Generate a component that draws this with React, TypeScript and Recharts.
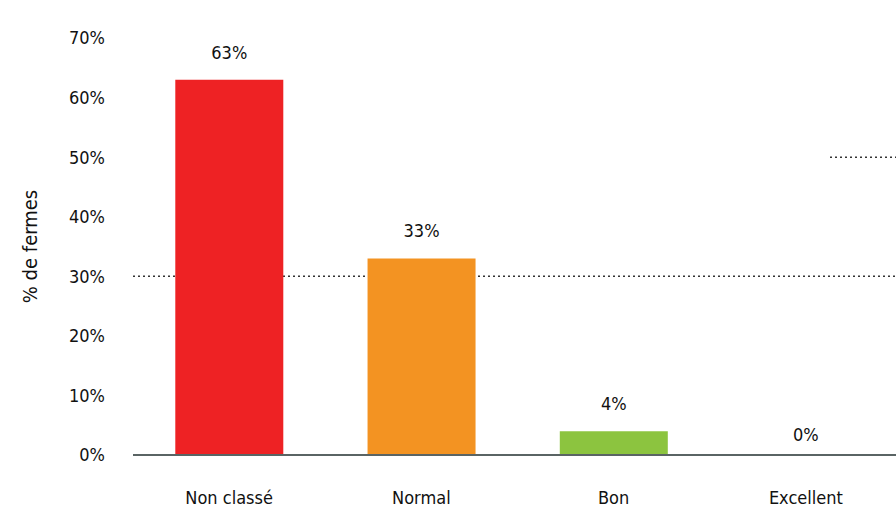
import {Bar, BarChart, CartesianGrid, Cell, LabelList, ReferenceDot, ReferenceLine, XAxis, YAxis} from 'recharts';

const categories = ['Non classé', 'Normal', 'Bon', 'Excellent'];
const shares = [63, 33, 4, 0];
const barColors = ['#ee2224', '#f39322', '#8cc43f', '#8cc43f'];
const yTicks = [0, 10, 20, 30, 40, 50, 60, 70];

const data = categories.map((name, i) => ({name, value: shares[i]}));

const FONT = '"DejaVu Sans Condensed", "Liberation Sans", sans-serif';
const textStyle = {fill: '#111', fontSize: 18, fontFamily: FONT};

function ShortDotted(props: any) {
    const {x2, y1} = props;
    return (
        <line x1={x2 - 72} x2={x2} y1={y1} y2={y1} stroke="#333" strokeWidth={1.5} strokeDasharray="2 3"/>
    );
}

export default function App() {
    // bars of height 0 get no label, so the empty category is labelled by a dot
    const empty = data.filter((d) => d.value === 0);
    return (
        <div style={{position: 'absolute', left: 0, top: 0, width: 896, height: 518, overflow: 'hidden', background: '#fff'}}>
            <BarChart
                width={902}
                height={518}
                data={data}
                margin={{top: 38, right: 0, left: 0, bottom: 0}}
                barCategoryGap="22%"
            >
                <CartesianGrid
                    horizontal
                    vertical={false}
                    horizontalValues={[30]}
                    stroke="#333"
                    strokeWidth={1.5}
                    strokeDasharray="2 3"
                />
                <XAxis
                    dataKey="name"
                    height={63}
                    tickLine={false}
                    axisLine={{stroke: '#5a6464', strokeWidth: 2}}
                    tick={textStyle}
                    tickMargin={30}
                    interval={0}
                />
                <YAxis
                    width={133}
                    domain={[0, 70]}
                    ticks={yTicks}
                    tickFormatter={(v: number) => `${v}%`}
                    axisLine={false}
                    tickLine={false}
                    tickMargin={22}
                    tick={textStyle}
                    label={{
                        value: '% de fermes',
                        angle: -90,
                        position: 'insideLeft',
                        offset: 30,
                        style: {...textStyle, fontSize: 20, textAnchor: 'middle'},
                    }}
                />
                <ReferenceLine y={50} shape={<ShortDotted/>}/>
                <Bar dataKey="value" isAnimationActive={false}>
                    {data.map((d, i) => (
                        <Cell key={d.name} fill={barColors[i]}/>
                    ))}
                    <LabelList
                        dataKey="value"
                        position="top"
                        offset={21}
                        formatter={(v: number) => `${v}%`}
                        style={textStyle}
                    />
                </Bar>
                {empty.map((d) => (
                    <ReferenceDot
                        key={d.name}
                        x={d.name}
                        y={d.value}
                        r={0}
                        fill="none"
                        stroke="none"
                        label={{value: `${d.value}%`, position: 'top', offset: 14, style: textStyle}}
                    />
                ))}
            </BarChart>
        </div>
    );
}
